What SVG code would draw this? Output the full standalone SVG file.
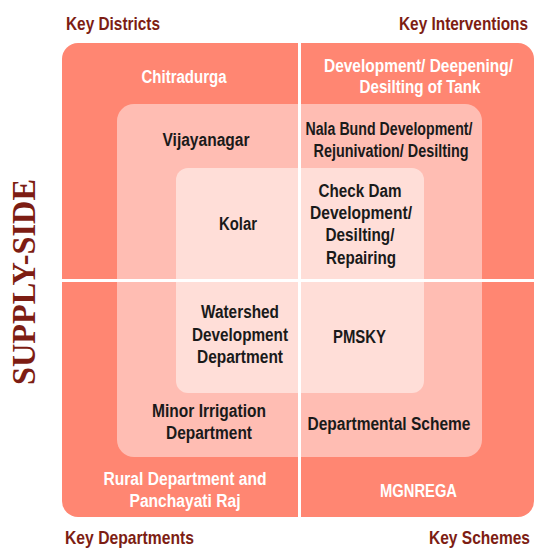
<svg xmlns="http://www.w3.org/2000/svg" width="535" height="549" viewBox="0 0 535 549">
<style>
.t{font-family:"Liberation Sans Narrow","Liberation Sans",Arial,sans-serif;font-weight:bold;font-size:18px;text-anchor:middle;fill:#1a1a1a}
.w{fill:#ffffff}
.h{font-family:"Liberation Sans Narrow","Liberation Sans",Arial,sans-serif;font-weight:bold;font-size:19px;fill:#7d1d13}
.side{font-family:"Liberation Serif","Times New Roman",serif;font-weight:bold;font-size:33px;fill:#7d1d13;text-anchor:middle}
</style>
<rect x="0" y="0" width="535" height="549" fill="#ffffff"/>
<g id="layers">
<rect id="outer" x="62" y="43" width="472" height="474" rx="16" fill="#ff8672"/>
<rect id="middle" x="117" y="104" width="365" height="353" rx="17" fill="#ffbdb3"/>
<rect id="inner" x="176" y="168" width="248" height="225" rx="12" fill="#ffded8"/>
</g>
<g id="dividers" stroke="#ffffff" stroke-width="3">
<line x1="299.5" y1="43" x2="299.5" y2="517"/>
<line x1="62" y1="280.5" x2="534" y2="280.5"/>
</g>
<g id="headings">
<text class="h" x="66" y="30" textLength="94" lengthAdjust="spacingAndGlyphs">Key Districts</text>
<text class="h" x="399" y="30" textLength="129" lengthAdjust="spacingAndGlyphs">Key Interventions</text>
<text class="h" x="65" y="544" textLength="129" lengthAdjust="spacingAndGlyphs">Key Departments</text>
<text class="h" x="429" y="544" textLength="101" lengthAdjust="spacingAndGlyphs">Key Schemes</text>
<text class="side" transform="translate(35,282) rotate(-90)" textLength="206" lengthAdjust="spacingAndGlyphs">SUPPLY-SIDE</text>
</g>
<g id="districts">
<text class="t w" x="184" y="83" textLength="85" lengthAdjust="spacingAndGlyphs">Chitradurga</text>
<text class="t" x="206" y="146" textLength="87" lengthAdjust="spacingAndGlyphs">Vijayanagar</text>
<text class="t" x="238" y="230" textLength="38" lengthAdjust="spacingAndGlyphs">Kolar</text>
</g>
<g id="interventions">
<text class="t w" x="418.5" y="72" textLength="189" lengthAdjust="spacingAndGlyphs">Development/ Deepening/</text>
<text class="t w" x="420" y="93" textLength="121" lengthAdjust="spacingAndGlyphs">Desilting of Tank</text>
<text class="t" x="389" y="135" textLength="167" lengthAdjust="spacingAndGlyphs">Nala Bund Development/</text>
<text class="t" x="391" y="156.5" textLength="155" lengthAdjust="spacingAndGlyphs">Rejunivation/ Desilting</text>
<text class="t" x="360" y="196.5" textLength="83" lengthAdjust="spacingAndGlyphs">Check Dam</text>
<text class="t" x="361" y="218.5" textLength="102" lengthAdjust="spacingAndGlyphs">Development/</text>
<text class="t" x="360" y="241" textLength="69" lengthAdjust="spacingAndGlyphs">Desilting/</text>
<text class="t" x="361" y="263.5" textLength="70" lengthAdjust="spacingAndGlyphs">Repairing</text>
</g>
<g id="departments">
<text class="t" x="240" y="318" textLength="78" lengthAdjust="spacingAndGlyphs">Watershed</text>
<text class="t" x="240" y="340.5" textLength="96" lengthAdjust="spacingAndGlyphs">Development</text>
<text class="t" x="240" y="362.5" textLength="86" lengthAdjust="spacingAndGlyphs">Department</text>
<text class="t" x="209" y="416.5" textLength="114" lengthAdjust="spacingAndGlyphs">Minor Irrigation</text>
<text class="t" x="209" y="439" textLength="86" lengthAdjust="spacingAndGlyphs">Department</text>
<text class="t w" x="185" y="484.5" textLength="163" lengthAdjust="spacingAndGlyphs">Rural Department and</text>
<text class="t w" x="185" y="507" textLength="111" lengthAdjust="spacingAndGlyphs">Panchayati Raj</text>
</g>
<g id="schemes">
<text class="t" x="359.5" y="343" textLength="53" lengthAdjust="spacingAndGlyphs">PMSKY</text>
<text class="t" x="389" y="429.5" textLength="163" lengthAdjust="spacingAndGlyphs">Departmental Scheme</text>
<text class="t w" x="418.5" y="496.5" textLength="77" lengthAdjust="spacingAndGlyphs">MGNREGA</text>
</g>
</svg>
